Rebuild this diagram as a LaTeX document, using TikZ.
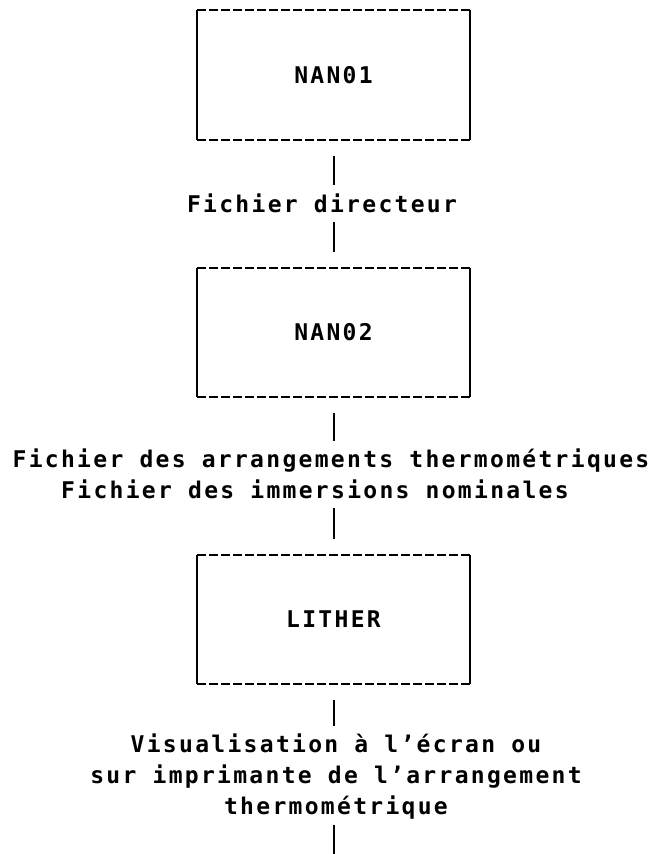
\documentclass[tikz,border=0pt]{standalone}
\usepackage{fontspec}
\newfontfamily\dotfont{DejaVu Sans Mono Bold}[LetterSpace=10]
\usetikzlibrary{positioning,calc}
\tikzset{
 prog/.style={minimum width=273pt, minimum height=129pt, inner sep=0pt, font={\dotfont\fontsize{23}{31}\selectfont}},
 lab/.style={inner sep=0pt, align=center, font={\dotfont\fontsize{23}{31}\selectfont}},
 side/.style={line width=2pt},
 rim/.style={line width=2pt, dash pattern=on 9pt off 3pt},
 fromprog/.style={line width=2pt, shorten <=16pt, shorten >=8pt},
 toprog/.style={line width=2pt, shorten <=9pt, shorten >=16pt}
}
\begin{document}
\begin{tikzpicture}[x=1pt,y=-1pt]
\useasboundingbox (0,0) rectangle (656,854);
% the three programs
\node[prog] (nan1) at (333.5,75) {NAN01};
\node[prog] (nan2) at (333.5,332.5) {NAN02};
\node[prog] (lither) at (333.5,619.5) {LITHER};
% files passed between them
\node[lab] (dir) at (322,203) {Fichier directeur};
\node[lab] (arr) at (331,474) {Fichier des arrangements thermométriques\\\hspace*{-32pt}Fichier des immersions nominales};
\node[lab] (vis) at (336,777) {Visualisation à l’écran ou\\sur imprimante de l’arrangement\\thermométrique};
\coordinate (out) at (333.5,854);
% box borders: solid sides, dashed top and bottom
\foreach \b in {nan1,nan2,lither}{
 \draw[side] (\b.north west) -- (\b.south west) (\b.north east) -- (\b.south east);
 \draw[rim] (\b.north west) -- (\b.north east) (\b.south west) -- (\b.south east);
}
\draw[fromprog] (nan1.south) -- (nan1.south |- dir.north);
\draw[toprog] (nan2.north |- dir.south) -- (nan2.north);
\draw[fromprog] (nan2.south) -- (nan2.south |- arr.north);
\draw[toprog] (lither.north |- arr.south) -- (lither.north);
\draw[fromprog] (lither.south) -- (lither.south |- vis.north);
\draw[line width=2pt, shorten <=5pt] (out |- vis.south) -- (out);
\end{tikzpicture}
\end{document}
